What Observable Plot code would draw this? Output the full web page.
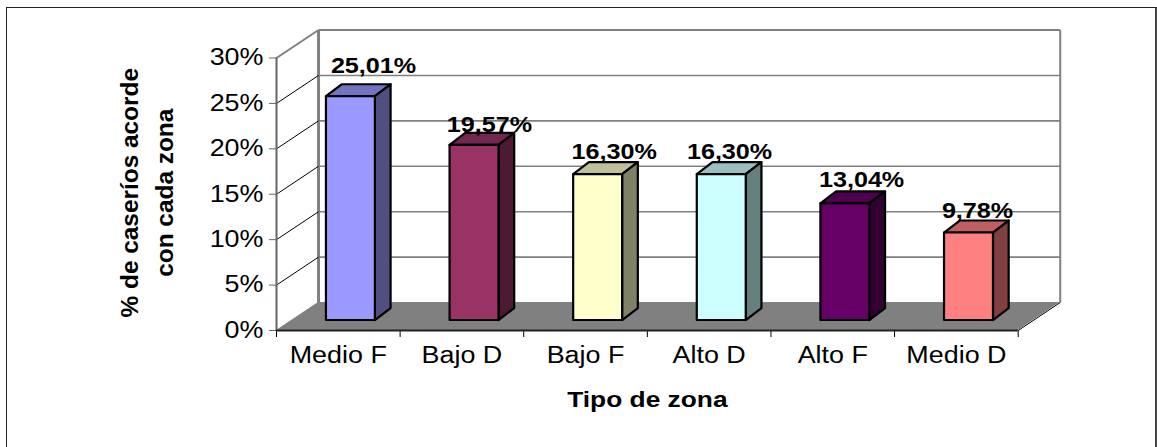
<!DOCTYPE html>
<html>
<head>
<meta charset="utf-8">
<script src="https://cdn.jsdelivr.net/npm/d3@7"></script>
<script src="https://cdn.jsdelivr.net/npm/@observablehq/plot@0.6"></script>
<style>
html,body{margin:0;padding:0;background:#fff;overflow:hidden;width:1157px;height:447px}
#frame{position:absolute;left:6px;top:7px;width:1148px;height:470px;border:1.5px solid #222;border-right:2px solid #444}
#chart{position:absolute;left:0;top:0}
</style>
</head>
<body>
<div id="frame"></div>
<div id="chart"></div>
<script>
const categories = ["Medio F","Bajo D","Bajo F","Alto D","Alto F","Medio D"];
const values = [25.01,19.57,16.30,16.30,13.04,9.78];
const valueLabels = ["25,01%","19,57%","16,30%","16,30%","13,04%","9,78%"];
const frontColors = ["#9999FF","#993366","#FFFFCC","#CCFFFF","#660066","#FF8080"];
const sideColors  = ["#4F4F80","#4D1933","#808066","#668080","#330033","#804040"];
const topColors   = ["#7373BF","#732650","#BFBF99","#99BFBF","#4D004D","#BF6060"];
const yTicks = [0,5,10,15,20,25,30];
const xEdges = [0,1,2,3,4,5,6];
const yFormat = d => d + "%";

// oblique projection, expressed in data units
const depthX = 0.34, depthY = 3.08;      // wall depth
const barDX = 0.127, barDY = 1.32;       // bar depth
const barX0 = 0.404, barW = 0.396;       // bar front face within a category
const barBase = 1.1;                     // bar base raised on the floor (front face)
const labelAlong = [0.785,0.723,0.731,0.665,0.733,0.671];
const labelLift = [1.32,0.15,0.45,0.45,0.5,0.3];

const link = (x1,y1,x2,y2,o) => Plot.link([{x1,y1,x2,y2}],{x1:"x1",y1:"y1",x2:"x2",y2:"y2",...o});

const marks = [];
// back wall
marks.push(link(depthX,depthY,depthX,30+depthY,{stroke:"#808080",strokeWidth:3}));
marks.push(link(6+depthX,depthY,6+depthX,30+depthY,{stroke:"#808080",strokeWidth:2}));
for (const t of yTicks.slice(1)) {
  marks.push(link(depthX,t+depthY,6+depthX,t+depthY,{stroke:"#808080",strokeWidth:t===30?2:1.6}));
  marks.push(link(0,t,depthX,t+depthY,{stroke:t===30?"#808080":"#000",strokeWidth:t===30?2:1}));
}
// floor
marks.push(Plot.areaX([{y:0,x1:0,x2:6},{y:depthY,x1:depthX,x2:6+depthX}],{y:"y",x1:"x1",x2:"x2",fill:"#808080"}));
marks.push(link(6,0,6+depthX,depthY,{stroke:"#000",strokeWidth:1}));
// axes
marks.push(Plot.axisX({ticks:xEdges,tickSize:7,tickFormat:()=>"",label:null,stroke:"#000"}));
marks.push(Plot.axisX({ticks:xEdges.slice(0,6).map(d=>d+0.5),tickFormat:d=>categories[d-0.5],tickSize:0,tickPadding:16,
  fontSize:23,color:"#000",label:null}));
marks.push(Plot.axisY({ticks:yTicks,tickFormat:yFormat,tickSize:7,tickPadding:6,fontSize:23,color:"#000",stroke:"#666",label:null}));
marks.push(Plot.ruleX([0],{stroke:"#666",strokeWidth:2}));
marks.push(Plot.ruleY([0],{stroke:"#222",strokeWidth:2}));
// bars
values.forEach((v,i) => {
  const x1 = i+barX0, x2 = x1+barW, y1 = barBase, y2 = v*0.985+barBase;
  const o = {stroke:"#000",strokeWidth:2.2,strokeLinejoin:"round"};
  marks.push(Plot.areaX([{y:y2,x1,x2},{y:y2+barDY,x1:x1+barDX,x2:x2+barDX}],{y:"y",x1:"x1",x2:"x2",fill:topColors[i],...o}));
  marks.push(Plot.areaY([{x:x2,y1,y2},{x:x2+barDX,y1:y1+barDY,y2:y2+barDY}],{x:"x",y1:"y1",y2:"y2",fill:sideColors[i],...o}));
  marks.push(Plot.rect([{x1,x2,y1,y2}],{x1:"x1",x2:"x2",y1:"y1",y2:"y2",fill:frontColors[i],...o}));
});
// value labels
marks.push(Plot.text(values.map((v,i)=>({x:i+labelAlong[i],y:v*0.985+barBase+barDY+labelLift[i],t:valueLabels[i]})),
  {x:"x",y:"y",text:"t",fontSize:21.5,fontWeight:"bold",fill:"#000",lineAnchor:"bottom",textAnchor:"middle"}));
// x title
marks.push(Plot.text(["Tipo de zona"],{frameAnchor:"bottom",dy:76,fontSize:22.5,fontWeight:"bold",fill:"#000",lineAnchor:"bottom",textAnchor:"middle"}));
// y title
marks.push(Plot.text(["% de caseríos acorde\ncon cada zona"],{frameAnchor:"left",dx:-132.5,dy:-1.5,rotate:-90,fontSize:24.4,fontWeight:"bold",lineHeight:1.43,fill:"#000",textAnchor:"middle",lineAnchor:"middle"}));

const chart = Plot.plot({
  width:1157,height:447,
  marginLeft:276,marginRight:139.3,marginTop:57.5,marginBottom:117,
  style:{background:"transparent",fontFamily:"'Liberation Sans',Arial,sans-serif",overflow:"visible"},
  x:{domain:[0,6],type:"linear"},
  y:{domain:[0,30],type:"linear"},
  marks
});
document.getElementById("chart").appendChild(chart);

// the reference text is horizontally stretched
d3.select(chart).selectAll("text").each(function(){
  if (this.querySelector("tspan")) return;
  const n = this.getComputedTextLength();
  this.setAttribute("textLength", n*1.17);
  this.setAttribute("lengthAdjust","spacingAndGlyphs");
});
</script>
</body>
</html>
